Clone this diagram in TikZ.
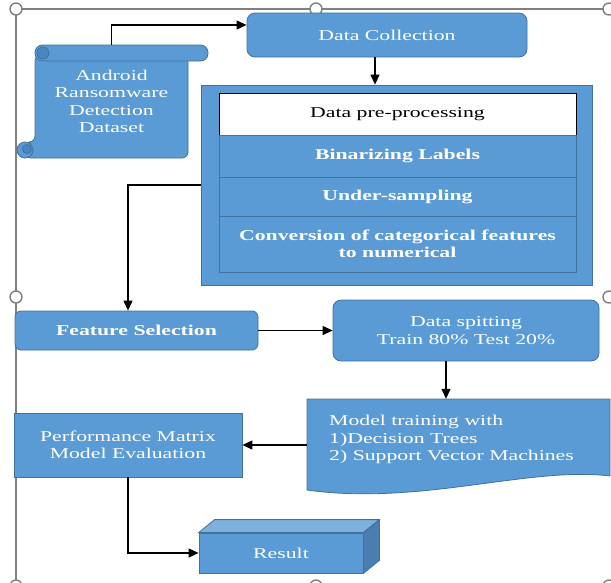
\documentclass[tikz,border=0pt]{standalone}
\usepackage{fontspec}
\setmainfont{Liberation Serif}[FakeStretch=1.45]
\usetikzlibrary{arrows.meta,calc}
\definecolor{myblue}{HTML}{5B9BD5}
\definecolor{myborder}{HTML}{41719C}
\definecolor{mytop}{HTML}{7EB0DE}
\definecolor{myside}{HTML}{4A7DB0}
\definecolor{mycurl}{HTML}{4A86C2}
\definecolor{framegray}{HTML}{808080}
\begin{document}
\begin{tikzpicture}[x=1pt,y=-1pt,
  txt/.style={font=\fontsize{15}{17.5}\selectfont, align=center},
  bluebox/.style={txt, fill=myblue, draw=myborder, line width=0.8pt, text=white, inner sep=0pt},
  roundbox/.style={bluebox, rounded corners=8pt},
  rowbox/.style={bluebox, minimum width=357pt, font=\fontsize{15}{17.5}\selectfont\bfseries},
  arr/.style={draw=black, line width=1.2pt, -{Triangle[length=10pt,width=9pt]}},
  handle/.style={draw=framegray, fill=white, line width=1.4pt},
  scrollpart/.style={fill=myblue, draw=myborder, line width=0.8pt},
  curlpart/.style={fill=mycurl, draw=myborder, line width=0.8pt},
]
\useasboundingbox (0,0) rectangle (611,582);
% frame
\draw[framegray, line width=1.4pt] (16,600) -- (16,9) -- (630,9);
\foreach \hx/\hy in {16/9, 316/9, 609/9, 16/297, 609/297, 16/586, 316/586, 609/586}
  \draw[handle] (\hx,\hy) circle[radius=6pt];

% data collection
\node[roundbox, minimum width=280pt, minimum height=44pt] (dc) at (387,35) {Data Collection};

% scroll
\filldraw[scrollpart, rounded corners=6pt] (35,55) -- (188,55) -- (188,158) -- (25,158) -- (25,142) -- (35,142) -- cycle;
\filldraw[scrollpart, rounded corners=7.5pt] (35,45) rectangle (208,61);
\filldraw[curlpart] (43,53) circle[radius=6pt];
\filldraw[scrollpart] (25,150) circle[radius=8pt];
\filldraw[curlpart] (27,149) circle[radius=4.5pt];
\node[txt, text=white, minimum width=153pt, minimum height=113pt, inner sep=0pt] (ds) at (111.5,101.5) {Android\\Ransomware\\Detection\\Dataset};

% preprocessing
\node[bluebox, minimum width=391pt, minimum height=200pt] (pp) at (396.5,185) {};
\node[txt, fill=white, draw=black, line width=1pt, minimum width=357pt, minimum height=42pt, inner sep=0pt] (hdr) at (397.5,114) {Data pre-processing};
\node[rowbox, minimum height=42pt] (r1) at (397.5,156) {Binarizing Labels};
\node[rowbox, minimum height=39pt] (r2) at (397.5,196.5) {Under-sampling};
\node[rowbox, minimum height=56pt] (r3) at (397.5,244) {Conversion of categorical features\\to numerical};

% feature selection
\node[roundbox, rounded corners=6pt, font=\fontsize{15}{17.5}\selectfont\bfseries, minimum width=243pt, minimum height=39pt] (fs) at (136.5,330.5) {Feature Selection};

% data splitting
\node[roundbox, minimum width=266pt, minimum height=61pt] (dsp) at (466,330.5) {Data spitting\\Train 80\% Test 20\%};

% model training
\node[minimum width=303pt, minimum height=91pt, inner sep=0pt] (mt) at (458.5,444.5) {};
\filldraw[scrollpart] (307,399) -- (610,399) -- (610,476) .. controls (530,466) and (420,506) .. (307,490) -- cycle;
\node[txt, text=white, align=left, anchor=west, inner sep=0pt] (mtt) at (329,439.5) {Model training with\\1)Decision Trees\\2) Support Vector Machines};

% performance
\node[bluebox, minimum width=228pt, minimum height=64pt] (perf) at (128,445) {Performance Matrix\\Model Evaluation};

% result cube
\node[bluebox, minimum width=164pt, minimum height=40pt] (res) at (281,553) {Result};
\filldraw[fill=mytop, draw=myborder, line width=0.8pt] (res.north west) -- ++(16,-13) -- ($(res.north east)+(16,-13)$) -- (res.north east) -- cycle;
\filldraw[fill=myside, draw=myborder, line width=0.8pt] (res.north east) -- ++(16,-13) -- ($(res.south east)+(16,-13)$) -- (res.south east) -- cycle;

% connectors
\draw[arr] (ds.north) |- ([yshift=10pt]dc.west);
\draw[arr] ([xshift=-12pt]dc.south) -- ([xshift=-12pt]dc.south |- pp.north);
\draw[arr] (pp.west) -| ([xshift=-8.5pt]fs.north);
\draw[arr] (fs.east) -- (dsp.west);
\draw[arr] ([xshift=-20pt]dsp.south) -- ([xshift=-20pt]dsp.south |- mt.north);
\draw[arr] (perf.east -| mt.west) -- (perf.east);
\draw[arr] (perf.south) |- (res.west);
\end{tikzpicture}
\end{document}
